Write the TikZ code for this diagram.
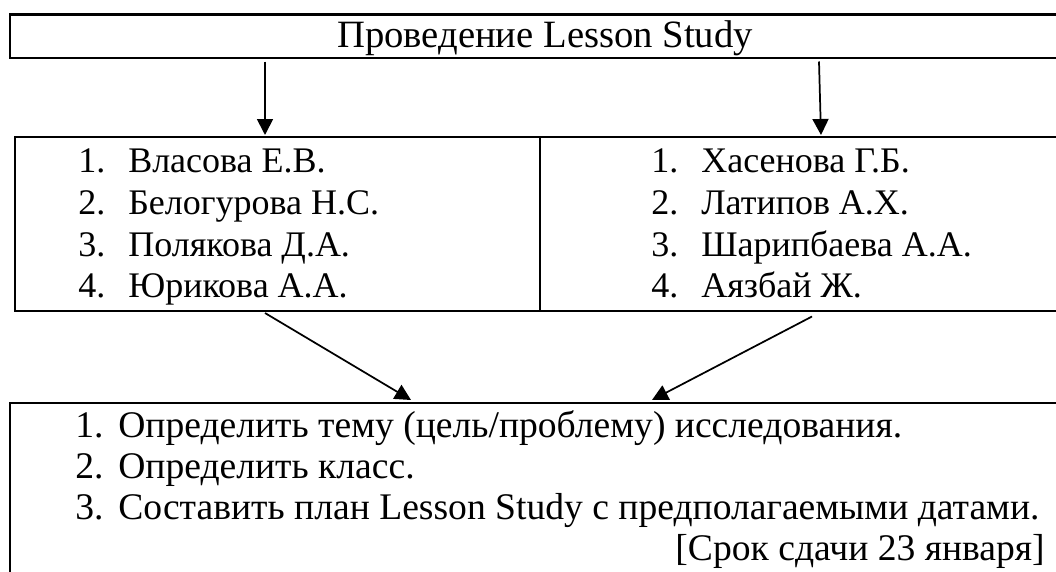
\documentclass[tikz,border=0pt]{standalone}
\usepackage{fontspec}
\setmainfont{Liberation Serif}
\usetikzlibrary{arrows.meta}
\begin{document}
\begin{tikzpicture}[x=0.75pt,y=-0.75pt,
  box/.style={draw=black,line width=1.75pt},
  arr/.style={line width=1.3pt,-{Triangle[width=12pt,length=12pt]}},
  txt/.style={anchor=base west,inner sep=0pt,font=\fontsize{27pt}{32pt}\selectfont},
  btxt/.style={anchor=base west,inner sep=0pt,font=\fontsize{28.2pt}{33pt}\selectfont},
  ttl/.style={anchor=base,inner sep=0pt,font=\fontsize{29pt}{34pt}\selectfont}]
\useasboundingbox (0,0) rectangle (1056,571);
\clip (0,0) rectangle (1056,571);
% boxes
\draw[box] (10.3,14.5) rectangle (1080,57.7);
\draw[box] (15,137.3) rectangle (1080,311);
\draw[box] (540,137.3) -- (540,311);
\draw[box] (10.3,403) rectangle (1080,600);
% title
\node[ttl] (title) at (545,47) {Проведение Lesson Study};
% left list
\node[txt] (ln1) at (78,172) {1.};
\node[txt] (lt1) at (128,172) {Власова Е.В.};
\node[txt] (ln2) at (78,214) {2.};
\node[txt] (lt2) at (128,214) {Белогурова Н.С.};
\node[txt] (ln3) at (78,256) {3.};
\node[txt] (lt3) at (128,256) {Полякова Д.А.};
\node[txt] (ln4) at (78,297) {4.};
\node[txt] (lt4) at (128,297) {Юрикова А.А.};
% right list
\node[txt] (rn1) at (651,172) {1.};
\node[txt] (rt1) at (701,172) {Хасенова Г.Б.};
\node[txt] (rn2) at (651,214) {2.};
\node[txt] (rt2) at (701,214) {Латипов А.Х.};
\node[txt] (rn3) at (651,256) {3.};
\node[txt] (rt3) at (701,256) {Шарипбаева А.А.};
\node[txt] (rn4) at (651,297) {4.};
\node[txt] (rt4) at (701,297) {Аязбай Ж.};
% bottom list
\node[btxt] (bn1) at (75,437) {1.};
\node[btxt] (bt1) at (118,437) {Определить тему (цель/проблему) исследования.};
\node[btxt] (bn2) at (75,478) {2.};
\node[btxt] (bt2) at (118,478) {Определить класс.};
\node[btxt] (bn3) at (75,519) {3.};
\node[btxt] (bt3) at (118,519) {Составить план Lesson Study с предполагаемыми датами.};
\node[btxt,anchor=base east] (dl) at (1045,560) {[Срок сдачи 23 января]};
% arrow coordinates
\coordinate (a1s) at (265,61.5);
\coordinate (a1e) at (265,135);
\coordinate (a2s) at (819,61.5);
\coordinate (a2e) at (821,135);
\coordinate (a3s) at (265,313);
\coordinate (a3e) at (411,400);
\coordinate (a4s) at (812,316.5);
\coordinate (a4e) at (652,400);
\draw[arr] (a1s) -- (a1e);
\draw[arr] (a2s) -- (a2e);
\draw[arr] (a3s) -- (a3e);
\draw[arr] (a4s) -- (a4e);
\end{tikzpicture}
\end{document}
